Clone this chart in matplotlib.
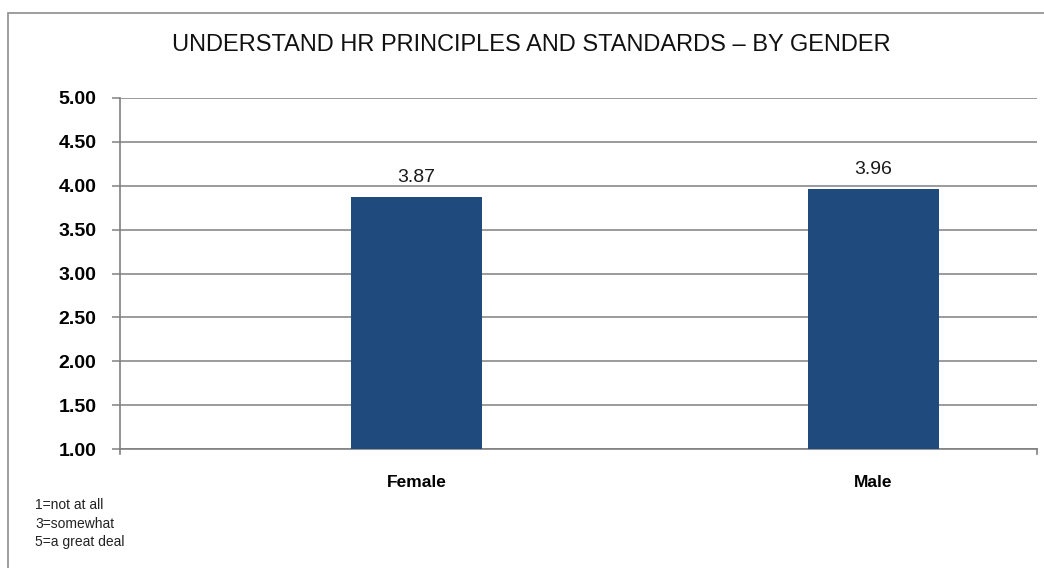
import matplotlib
matplotlib.use("Agg")
import matplotlib.pyplot as plt
from matplotlib.patches import Rectangle
from matplotlib.lines import Line2D

categories = ["Female", "Male"]
values = [3.87, 3.96]
value_labels = ["3.87", "3.96"]
yticks = [1.0, 1.5, 2.0, 2.5, 3.0, 3.5, 4.0, 4.5, 5.0]
ytick_labels = ["1.00", "1.50", "2.00", "2.50", "3.00", "3.50", "4.00", "4.50", "5.00"]
title = "UNDERSTAND HR PRINCIPLES AND STANDARDS \u2013 BY GENDER"
note = "1=not at all\n3=somewhat\n5=a great deal"

FONT = "Liberation Sans"
W, H = 1044, 568
fig = plt.figure(figsize=(10.44, 5.68), dpi=100)
ax = fig.add_axes([120 / W, 1 - 449 / H, (1037 - 120) / W, (449 - 98) / H])

x = list(range(len(categories)))
ax.bar(x, values, width=0.287, color="#1f4a7e", zorder=3)
ax.set_xlim(-0.6495, 1.359)
ax.set_ylim(1, 5)
ax.set_yticks(yticks)
ax.set_yticklabels(ytick_labels, fontfamily=FONT, fontweight="bold", fontsize=14)
ax.set_xticks(x)
ax.set_xticklabels(categories, fontfamily=FONT, fontweight="bold", fontsize=12.5)
ax.tick_params(axis="x", length=0, pad=19)
ax.tick_params(axis="y", length=6, color="#808080", width=1.1, pad=11)
ax.yaxis.grid(True, color="#8a8a8a", linewidth=1.2, zorder=0)
for s in ["top", "right"]:
    ax.spines[s].set_visible(False)
for s in ["left", "bottom"]:
    ax.spines[s].set_color("#808080")
    ax.spines[s].set_linewidth(1.2)

# small end ticks on the category axis
for xe in ax.get_xlim():
    ax.add_line(Line2D([xe, xe], [0, -0.015], transform=ax.get_xaxis_transform(),
                       color="#808080", linewidth=1.2, clip_on=False))

for xi, v, lab in zip(x, values, value_labels):
    ax.annotate(lab, (xi, v), xytext=(0, 11), textcoords="offset points",
                ha="center", va="baseline", fontfamily=FONT, fontsize=14, color="#1a1a1a")

fig.text(531 / W, 1 - 45 / H, title, ha="center", va="center",
         fontfamily=FONT, fontsize=17, color="#111111")
fig.text(35 / W, 1 - 498 / H, note, ha="left", va="top",
         fontfamily=FONT, fontsize=10, linespacing=1.42, color="#222222")

fig.patches.append(Rectangle((8 / W, -0.1), 1.2, 1 - 12.7 / H + 0.1, transform=fig.transFigure,
                             fill=False, edgecolor="#8c8c8c", linewidth=1.2))

fig.savefig("out.png", dpi=100)
